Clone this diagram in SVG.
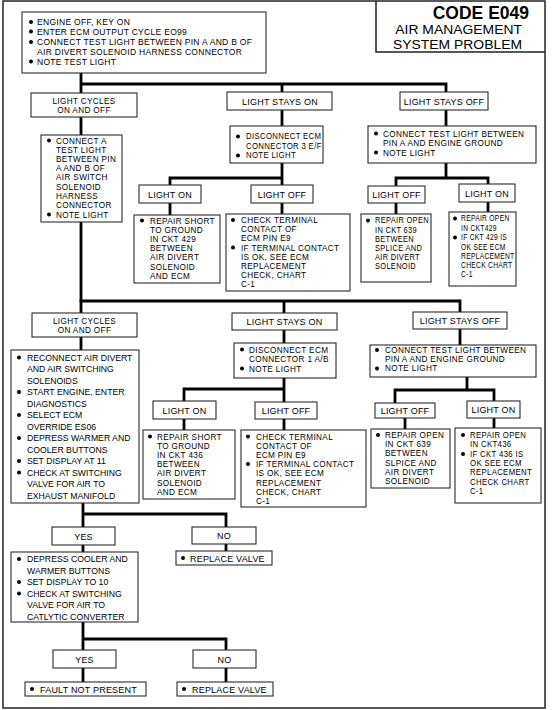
<svg xmlns="http://www.w3.org/2000/svg" width="552" height="710" viewBox="0 0 552 710">
<style>
.b{fill:#fff;stroke:#2a2a2a;stroke-width:1.1}
.c{fill:none;stroke:#000;stroke-width:2.8;stroke-linecap:square}
.f{fill:none;stroke:#222;stroke-width:1.5}
text{font-family:"Liberation Sans",Arial,Helvetica,sans-serif;font-size:8.2px;letter-spacing:0.35px;fill:#000}
.m{text-anchor:middle}
.l{font-size:9px;letter-spacing:0.2px}
.d{fill:#000}
.t1{font-size:17.5px;font-weight:bold;letter-spacing:0;text-anchor:end}
.t2{font-size:13px;letter-spacing:0;text-anchor:end}
.s87{font-size:8.7px;letter-spacing:0}
.s85{font-size:8.5px;letter-spacing:0.3px}
</style>
<rect class="f" x="3" y="1" width="542" height="707"/>
<g id="title">
<path class="f" d="M376,1 V52 H545"/>
<text class="t1" x="529" y="18.5">CODE E049</text>
<text class="t2" transform="translate(522 0) scale(1.07 1)" x="0" y="34.5">AIR MANAGEMENT</text>
<text class="t2" transform="translate(522 0) scale(1.07 1)" x="0" y="49.2">SYSTEM PROBLEM</text>
</g>
<g id="connectors">
<path class="c" d="M81,73 V93 M81,84 H446 M282,84 V92 M446,84 V92 M81,117 V135 M81,222 V313 M282,110 V126 M282,163 V185 M170,178 H282 M170,178 V185 M170,203 V215 M282,203 V214 M446,110 V126 M446,163 V178 M396,178 H488 M396,178 V186 M488,178 V184 M396,203 V214 M488,202 V212"/>
<path class="c" d="M81,301 H460 M284,301 V313 M284,330 V343 M284,378 V402 M184,389 H284 M184,389 V401 M184,419 V430 M284,419 V430 M460,301 V312 M460,329 V345 M467,377 V390 M395,390 H494 M395,390 V403 M494,390 V401 M405,418 V429 M494,418 V428 M81,337 V350"/>
<path class="c" d="M83,503 V527 M83,514 H226 V527 M83,545 V552 M226,544 V551 M83,622 V650 M83,639 H226 V650 M83,668 V682 M226,668 V682"/>
</g>
<g id="start">
<rect class="b" x="22" y="12" width="244" height="61"/>
<circle class="d" cx="31" cy="22" r="2"/><circle class="d" cx="31" cy="31.5" r="2"/><circle class="d" cx="31" cy="42" r="2"/><circle class="d" cx="31" cy="61.5" r="2"/>
<text class="s85"><tspan x="37" y="25">ENGINE OFF, KEY ON</tspan><tspan x="37" y="34.5">ENTER ECM OUTPUT CYCLE EO99</tspan><tspan x="37" y="45">CONNECT TEST LIGHT BETWEEN PIN A AND B  OF</tspan><tspan x="37" y="54.5">AIR DIVERT SOLENOID HARNESS CONNECTOR</tspan><tspan x="37" y="64.5">NOTE TEST LIGHT</tspan></text>
</g>
<g id="r1-cycles">
<rect class="b" x="31" y="93" width="106" height="24"/>
<text class="m"><tspan x="84" y="103.5">LIGHT CYCLES</tspan><tspan x="84" y="112.7">ON AND OFF</tspan></text>
</g>
<g id="r1-connectA">
<rect class="b" x="41" y="135" width="81" height="87"/>
<circle class="d" cx="49" cy="140.5" r="2"/><circle class="d" cx="49" cy="214.5" r="2"/>
<text><tspan x="56" y="143.5">CONNECT A</tspan><tspan x="56" y="152.7">TEST LIGHT</tspan><tspan x="56" y="161.9">BETWEEN PIN</tspan><tspan x="56" y="171.1">A AND B OF</tspan><tspan x="56" y="180.3">AIR SWITCH</tspan><tspan x="56" y="189.5">SOLENOID</tspan><tspan x="56" y="198.7">HARNESS</tspan><tspan x="56" y="207.9">CONNECTOR</tspan><tspan x="56" y="217.5">NOTE LIGHT</tspan></text>
</g>
<g id="r1-stayson">
<rect class="b" x="227" y="92" width="105" height="18"/>
<text class="m l" x="280" y="104.5">LIGHT STAYS ON</text>
</g>
<g id="r1-disconnect">
<rect class="b" x="230" y="126" width="93" height="37"/>
<circle class="d" cx="238" cy="136.5" r="2"/><circle class="d" cx="238" cy="155.5" r="2"/>
<text transform="translate(246 0) scale(0.95 1)"><tspan x="0" y="139.5">DISCONNECT ECM</tspan><tspan x="0" y="148.7">CONNECTOR 3 E/F</tspan><tspan x="0" y="158.5">NOTE LIGHT</tspan></text>
</g>
<g id="r1-on-on">
<rect class="b" x="139" y="185" width="62" height="18"/>
<text class="m l" x="170" y="197.5">LIGHT ON</text>
</g>
<g id="r1-on-off">
<rect class="b" x="251" y="185" width="62" height="18"/>
<text class="m l" x="282" y="197.5">LIGHT OFF</text>
</g>
<g id="r1-short">
<rect class="b" x="134" y="215" width="86" height="68"/>
<circle class="d" cx="142" cy="220.5" r="2"/>
<text><tspan x="150" y="223.5">REPAIR SHORT</tspan><tspan x="150" y="232.7">TO GROUND</tspan><tspan x="150" y="241.9">IN CKT 429</tspan><tspan x="150" y="251.1">BETWEEN</tspan><tspan x="150" y="260.3">AIR DIVERT</tspan><tspan x="150" y="269.5">SOLENOID</tspan><tspan x="150" y="278.7">AND ECM</tspan></text>
</g>
<g id="r1-check">
<rect class="b" x="226" y="214" width="124" height="77"/>
<circle class="d" cx="233" cy="220" r="2"/><circle class="d" cx="233" cy="247.6" r="2"/>
<text><tspan x="241" y="223">CHECK TERMINAL</tspan><tspan x="241" y="232.2">CONTACT OF</tspan><tspan x="241" y="241.4">ECM PIN E9</tspan><tspan x="241" y="250.6">IF TERMINAL CONTACT</tspan><tspan x="241" y="259.8">IS OK, SEE ECM</tspan><tspan x="241" y="269">REPLACEMENT</tspan><tspan x="241" y="278.2">CHECK, CHART</tspan><tspan x="241" y="287.4">C-1</tspan></text>
</g>
<g id="r1-staysoff">
<rect class="b" x="400" y="92" width="88" height="18"/>
<text class="m l" x="444" y="104.5">LIGHT STAYS OFF</text>
</g>
<g id="r1-connect">
<rect class="b" x="368" y="126" width="168" height="37"/>
<circle class="d" cx="376" cy="133.5" r="2"/><circle class="d" cx="376" cy="152.5" r="2"/>
<text><tspan x="383" y="136.5">CONNECT TEST LIGHT BETWEEN</tspan><tspan x="383" y="145.7">PIN A AND ENGINE GROUND</tspan><tspan x="383" y="155.5">NOTE LIGHT</tspan></text>
</g>
<g id="r1-off-off">
<rect class="b" x="368" y="186" width="57" height="17"/>
<text class="m l" x="396.5" y="198">LIGHT OFF</text>
</g>
<g id="r1-off-on">
<rect class="b" x="459" y="184" width="56" height="18"/>
<text class="m l" x="487" y="196.5">LIGHT ON</text>
</g>
<g id="r1-open639">
<rect class="b" x="361" y="214" width="70" height="68"/>
<circle class="d" cx="368" cy="220.5" r="2"/>
<text transform="translate(375 0) scale(0.91 1)"><tspan x="0" y="223.5">REPAIR OPEN</tspan><tspan x="0" y="232.7">IN CKT 639</tspan><tspan x="0" y="241.9">BETWEEN</tspan><tspan x="0" y="251.1">SPLICE AND</tspan><tspan x="0" y="260.3">AIR DIVERT</tspan><tspan x="0" y="269.5">SOLENOID</tspan></text>
</g>
<g id="r1-open429">
<rect class="b" x="449" y="212" width="67" height="74"/>
<circle class="d" cx="455" cy="218.5" r="2"/><circle class="d" cx="455" cy="237.5" r="2"/>
<text transform="translate(461 0) scale(0.82 1)"><tspan x="0" y="221.5">REPAIR OPEN</tspan><tspan x="0" y="230.7">IN CKT429</tspan><tspan x="0" y="240.5">IF CKT 429 IS</tspan><tspan x="0" y="249.7">OK SEE ECM</tspan><tspan x="0" y="258.9">REPLACEMENT</tspan><tspan x="0" y="268.1">CHECK CHART</tspan><tspan x="0" y="277.3">C-1</tspan></text>
</g>
<g id="r2-cycles">
<rect class="b" x="32" y="313" width="105" height="24"/>
<text class="m"><tspan x="84.5" y="323.5">LIGHT CYCLES</tspan><tspan x="84.5" y="332.7">ON AND OFF</tspan></text>
</g>
<g id="r2-reconnect">
<rect class="b" x="11" y="350" width="128" height="153"/>
<circle class="d" cx="19" cy="357.5" r="2"/><circle class="d" cx="19" cy="392" r="2"/><circle class="d" cx="19" cy="415" r="2"/><circle class="d" cx="19" cy="438" r="2"/><circle class="d" cx="19" cy="461" r="2"/><circle class="d" cx="19" cy="472.5" r="2"/>
<text class="s87"><tspan x="27" y="360.5">RECONNECT AIR DIVERT</tspan><tspan x="27" y="372">AND AIR SWITCHING</tspan><tspan x="27" y="383.5">SOLENOIDS</tspan><tspan x="27" y="395">START ENGINE, ENTER</tspan><tspan x="27" y="406.5">DIAGNOSTICS</tspan><tspan x="27" y="418">SELECT ECM</tspan><tspan x="27" y="429.5">OVERRIDE ES06</tspan><tspan x="27" y="441">DEPRESS WARMER AND</tspan><tspan x="27" y="452.5">COOLER BUTTONS</tspan><tspan x="27" y="464">SET DISPLAY AT 11</tspan><tspan x="27" y="475.5">CHECK AT SWITCHING</tspan><tspan x="27" y="487">VALVE FOR AIR TO</tspan><tspan x="27" y="498.5">EXHAUST MANIFOLD</tspan></text>
</g>
<g id="r2-stayson">
<rect class="b" x="232" y="313" width="105" height="17"/>
<text class="m l" x="284.5" y="325">LIGHT STAYS ON</text>
</g>
<g id="r2-disconnect">
<rect class="b" x="234" y="343" width="102" height="35"/>
<circle class="d" cx="242" cy="349.5" r="2"/><circle class="d" cx="242" cy="368.5" r="2"/>
<text><tspan x="249" y="352.5">DISCONNECT ECM</tspan><tspan x="249" y="361.7">CONNECTOR 1 A/B</tspan><tspan x="249" y="371.5">NOTE LIGHT</tspan></text>
</g>
<g id="r2-on-on">
<rect class="b" x="153" y="401" width="63" height="18"/>
<text class="m l" x="184.5" y="413.5">LIGHT ON</text>
</g>
<g id="r2-on-off">
<rect class="b" x="255" y="402" width="62" height="17"/>
<text class="m l" x="286" y="414">LIGHT OFF</text>
</g>
<g id="r2-short">
<rect class="b" x="143" y="430" width="92" height="69"/>
<circle class="d" cx="150" cy="436.5" r="2"/>
<text><tspan x="157" y="439.5">REPAIR SHORT</tspan><tspan x="157" y="448.7">TO GROUND</tspan><tspan x="157" y="457.9">IN CKT 436</tspan><tspan x="157" y="467.1">BETWEEN</tspan><tspan x="157" y="476.3">AIR DIVERT</tspan><tspan x="157" y="485.5">SOLENOID</tspan><tspan x="157" y="494.7">AND ECM</tspan></text>
</g>
<g id="r2-check">
<rect class="b" x="241" y="430" width="125" height="77"/>
<circle class="d" cx="248" cy="436.5" r="2"/><circle class="d" cx="248" cy="464.1" r="2"/>
<text><tspan x="256" y="439.5">CHECK TERMINAL</tspan><tspan x="256" y="448.7">CONTACT OF</tspan><tspan x="256" y="457.9">ECM PIN E9</tspan><tspan x="256" y="467.1">IF TERMINAL CONTACT</tspan><tspan x="256" y="476.3">IS OK, SEE ECM</tspan><tspan x="256" y="485.5">REPLACEMENT</tspan><tspan x="256" y="494.7">CHECK, CHART</tspan><tspan x="256" y="503.9">C-1</tspan></text>
</g>
<g id="r2-staysoff">
<rect class="b" x="413" y="312" width="94" height="17"/>
<text class="m l" x="460" y="324">LIGHT STAYS OFF</text>
</g>
<g id="r2-connect">
<rect class="b" x="370" y="345" width="166" height="32"/>
<circle class="d" cx="377" cy="350" r="2"/><circle class="d" cx="377" cy="368.4" r="2"/>
<text><tspan x="385" y="353">CONNECT TEST LIGHT BETWEEN</tspan><tspan x="385" y="362.2">PIN A AND ENGINE GROUND</tspan><tspan x="385" y="371.4">NOTE LIGHT</tspan></text>
</g>
<g id="r2-off-off">
<rect class="b" x="375" y="403" width="60" height="15"/>
<text class="m l" x="405" y="414">LIGHT OFF</text>
</g>
<g id="r2-off-on">
<rect class="b" x="467" y="401" width="53" height="17"/>
<text class="m l" x="493.5" y="413">LIGHT ON</text>
</g>
<g id="r2-open639">
<rect class="b" x="371" y="429" width="79" height="59"/>
<circle class="d" cx="378" cy="435" r="2"/>
<text><tspan x="385" y="438">REPAIR OPEN</tspan><tspan x="385" y="447.2">IN CKT 639</tspan><tspan x="385" y="456.4">BETWEEN</tspan><tspan x="385" y="465.6">SLPICE AND</tspan><tspan x="385" y="474.8">AIR DIVERT</tspan><tspan x="385" y="484">SOLENOID</tspan></text>
</g>
<g id="r2-open436">
<rect class="b" x="455" y="428" width="86" height="75"/>
<circle class="d" cx="463" cy="435" r="2"/><circle class="d" cx="463" cy="454" r="2"/>
<text transform="translate(470 0) scale(0.95 1)"><tspan x="0" y="438">REPAIR OPEN</tspan><tspan x="0" y="447.2">IN CKT436</tspan><tspan x="0" y="457">IF CKT 436 IS</tspan><tspan x="0" y="466.2">OK SEE ECM</tspan><tspan x="0" y="475.4">REPLACEMENT</tspan><tspan x="0" y="484.6">CHECK CHART</tspan><tspan x="0" y="493.8">C-1</tspan></text>
</g>
<g id="yes1">
<rect class="b" x="52" y="527" width="63" height="18"/>
<text class="m l" x="83.5" y="539.5">YES</text>
</g>
<g id="no1">
<rect class="b" x="192" y="527" width="64" height="17"/>
<text class="m l" x="224" y="539">NO</text>
</g>
<g id="replace1">
<rect class="b" x="176" y="551" width="96" height="14"/>
<circle class="d" cx="183" cy="558" r="2"/><text class="l" x="190" y="561.5">REPLACE VALVE</text>
</g>
<g id="depress">
<rect class="b" x="11" y="552" width="127" height="70"/>
<circle class="d" cx="19" cy="559" r="2"/><circle class="d" cx="19" cy="582" r="2"/><circle class="d" cx="19" cy="593.5" r="2"/>
<text class="s87"><tspan x="27" y="562">DEPRESS COOLER AND</tspan><tspan x="27" y="573.5">WARMER  BUTTONS</tspan><tspan x="27" y="585">SET DISPLAY TO 10</tspan><tspan x="27" y="596.5">CHECK AT SWITCHING</tspan><tspan x="27" y="608">VALVE FOR AIR TO</tspan><tspan x="27" y="619.5">CATLYTIC CONVERTER</tspan></text>
</g>
<g id="yes2">
<rect class="b" x="53" y="650" width="63" height="18"/>
<text class="m l" x="84.5" y="662.5">YES</text>
</g>
<g id="no2">
<rect class="b" x="193" y="650" width="63" height="18"/>
<text class="m l" x="224.5" y="662.5">NO</text>
</g>
<g id="fault">
<rect class="b" x="25" y="682" width="121" height="14"/>
<circle class="d" cx="32" cy="689" r="2"/><text class="l" x="40" y="692.5">FAULT NOT PRESENT</text>
</g>
<g id="replace2">
<rect class="b" x="177" y="682" width="96" height="14"/>
<circle class="d" cx="184" cy="689" r="2"/><text class="l" x="192" y="692.5">REPLACE VALVE</text>
</g>
</svg>
